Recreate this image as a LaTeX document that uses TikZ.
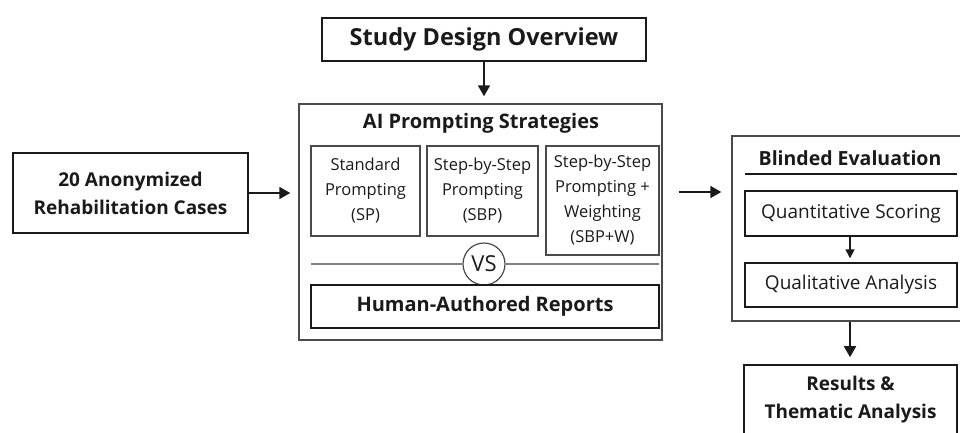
\documentclass[tikz,border=0pt]{standalone}
\usepackage{fontspec}
\setmainfont{Open Sans}
\usetikzlibrary{arrows.meta,calc}
\definecolor{ink}{HTML}{1A1A1A}
\definecolor{soft}{HTML}{4A4A4A}
\tikzset{
  box/.style={draw=ink, line width=1.6pt, rectangle, inner sep=0pt, align=center, text=ink},
  frame/.style={draw=soft, line width=1.4pt, rectangle, inner sep=0pt},
  sub/.style={draw=soft, line width=1.2pt, rectangle, inner sep=0pt, align=center, text=ink, font=\fontsize{16.5}{25}\selectfont},
  flow/.style={draw=ink, line width=1.7pt, -{Triangle[length=11pt,width=12pt]}},
  big/.style={font=\fontsize{23.5}{28}\selectfont\bfseries},
  mid/.style={font=\fontsize{19.5}{28}\selectfont\bfseries},
  reg/.style={font=\fontsize{19}{26}\selectfont},
}
\begin{document}
\begin{tikzpicture}[x=1pt,y=-1pt]
\useasboundingbox (0,0) rectangle (960,432);
\clip (0,0) rectangle (960,432);
\node[box, big, minimum width=324pt, minimum height=43pt] (title) at (484,39.5) {Study Design Overview};
\node[box, mid, font=\fontsize{19}{28}\selectfont\bfseries, minimum width=235pt, minimum height=80pt] (cases) at (130.5,193) {20 Anonymized\\Rehabilitation Cases};
\node[frame, minimum width=363pt, minimum height=236pt] (main) at (480.5,222) {};
\node[mid, font=\fontsize{20}{28}\selectfont\bfseries, text=ink] (aititle) at (481,123) {AI Prompting Strategies};
\node[sub, minimum width=109pt, minimum height=90pt] (sp) at (365.5,191) {Standard\\Prompting\\(SP)};
\node[sub, minimum width=111pt, minimum height=90pt] (sbp) at (482.5,191) {Step-by-Step\\Prompting\\(SBP)};
\node[sub, minimum width=113pt, minimum height=109pt] (sbpw) at (602.5,200.5) {Step-by-Step\\Prompting +\\Weighting\\(SBP+W)};
\coordinate (vsl) at (311,264);
\coordinate (vsr) at (659,264);
\node[draw=soft, line width=1.2pt, circle, minimum size=42pt, inner sep=0pt, text=ink, font=\fontsize{22}{24}\selectfont] (vs) at (484,264) {VS};
\draw[soft!70, line width=1.6pt] (vsl) -- (vs.west) (vs.east) -- (vsr);
\node[box, mid, font=\fontsize{20}{28}\selectfont\bfseries, minimum width=348pt, minimum height=43pt] (human) at (485,306.5) {Human-Authored Reports};
\node[frame, minimum width=234pt, minimum height=185pt] (blind) at (849,228.5) {};
\node[text=ink, font=\fontsize{19.5}{24}\selectfont\bfseries] (btitle) at (850,158) {Blinded Evaluation};
\coordinate (sepl) at (745,174);
\coordinate (sepr) at (957,174);
\draw[ink, line width=1.2pt] (sepl) -- (sepr);
\node[box, reg, line width=1.4pt, minimum width=212pt, minimum height=45pt] (quant) at (851,213.5) {Quantitative Scoring};
\node[box, reg, line width=1.4pt, minimum width=212pt, minimum height=44pt] (qual) at (851,285) {Qualitative Analysis};
\node[box, mid, font=\fontsize{19}{28}\selectfont\bfseries, minimum width=213pt, minimum height=70pt] (res) at (850.5,400) {Results \&\\Thematic Analysis};
\draw[flow, shorten >=7pt] (title) -- (title |- main.north);
\draw[flow, shorten >=8pt] (cases.east) -- (cases.east -| main.west);
\draw[flow, shorten <=16pt, shorten >=10pt] (main.east |- 0,192) -- (blind.west |- 0,192);
\draw[flow, line width=1.4pt, -{Triangle[length=9pt,width=9pt]}, shorten >=4pt] (quant.south -| 850,0) -- (qual.north -| 850,0);
\draw[flow, shorten >=7pt] (blind.south -| 850,0) -- (res.north -| 850,0);
\end{tikzpicture}
\end{document}
